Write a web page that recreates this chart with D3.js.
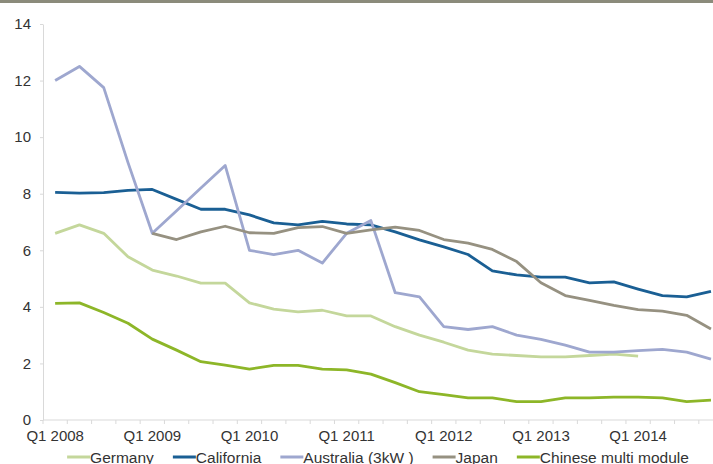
<!DOCTYPE html>
<html><head><meta charset="utf-8">
<script src="https://cdn.jsdelivr.net/npm/d3@7"></script>
<style>
html,body{margin:0;padding:0;background:#fff;}
svg{display:block;}
text{font-family:"Liberation Sans",Arial,sans-serif;}
</style></head>
<body>
<svg id="chart" width="713" height="464"></svg>
<script>
const quarters = [];
for (let y = 2008; y <= 2014; y++) for (let q = 1; q <= 4; q++) quarters.push("Q" + q + " " + y);

const tickLabels = ["Q1 2008","Q1 2009","Q1 2010","Q1 2011","Q1 2012","Q1 2013","Q1 2014"];
const yTicks = [0,2,4,6,8,10,12,14];

const germany = [6.6,6.9,6.6,5.77,5.3,5.09,4.84,4.84,4.14,3.92,3.82,3.88,3.68,3.68,3.3,3.0,2.75,2.47,2.33,2.28,2.23,2.23,2.28,2.33,2.26,null,null,null];
const california = [8.05,8.02,8.04,8.12,8.15,7.8,7.45,7.45,7.25,6.97,6.9,7.02,6.93,6.9,6.65,6.37,6.12,5.85,5.27,5.13,5.05,5.05,4.85,4.88,4.63,4.4,4.35,4.55];
const australia = [12.0,12.5,11.75,9.1,6.6,7.4,8.2,9.0,6.0,5.85,6.0,5.55,6.6,7.05,4.5,4.35,3.3,3.2,3.3,3.0,2.85,2.65,2.4,2.4,2.45,2.5,2.4,2.15];
const japan = [null,null,null,null,6.6,6.38,6.65,6.85,6.62,6.6,6.8,6.84,6.6,6.72,6.82,6.7,6.38,6.25,6.03,5.6,4.85,4.4,4.23,4.05,3.9,3.85,3.7,3.22];
const chinese = [4.12,4.14,3.8,3.42,2.86,2.47,2.06,1.94,1.8,1.93,1.93,1.8,1.77,1.62,1.32,1.0,0.9,0.78,0.78,0.65,0.65,0.78,0.78,0.81,0.81,0.78,0.65,0.7];

const seriesNames = ["Germany","California","Australia (3kW )","Japan","Chinese multi module"];
const seriesValues = [germany, california, australia, japan, chinese];
const seriesColors = ["#c4d79b","#1a5f94","#9ea7cf","#969181","#8db628"];

const svg = d3.select("#chart");

// top bar
svg.append("rect").attr("x",0).attr("y",0).attr("width",713).attr("height",3).attr("fill","#8b8b7b");

const x = d3.scaleBand().domain(quarters).range([43, 43 + 28*24.29]).padding(0);
const y = d3.scaleLinear().domain([0,14]).range([420,24]);
const cx = q => x(q) + x.bandwidth()/2;

// y axis
const yAxis = svg.append("g").attr("transform","translate(43,0)")
  .call(d3.axisLeft(y).tickValues(yTicks).tickSize(3).tickPadding(9).tickSizeOuter(0));
yAxis.select(".domain").attr("stroke","#d9d9d9");
yAxis.selectAll(".tick line").attr("stroke","#d9d9d9");
yAxis.selectAll(".tick text").attr("fill","#333").style("font-size","15px").style("font-family","'Liberation Sans',Arial,sans-serif");

// x axis line
svg.append("line").attr("x1",43).attr("x2",723).attr("y1",y(0)).attr("y2",y(0)).attr("stroke","#d9d9d9");
// boundary ticks
const bounds = quarters.map(q => x(q)).concat([x(quarters[quarters.length-1]) + x.bandwidth()]);
svg.append("g").selectAll("line").data(bounds).join("line")
  .attr("x1",d=>d).attr("x2",d=>d).attr("y1",y(0)).attr("y2",y(0)+4).attr("stroke","#d9d9d9");
// x labels
const xAxis = svg.append("g").attr("transform","translate(0," + y(0) + ")")
  .call(d3.axisBottom(x).tickValues(tickLabels).tickSize(0).tickPadding(10));
xAxis.select(".domain").remove();
xAxis.selectAll(".tick text").attr("fill","#333").style("font-size","15px").style("font-family","'Liberation Sans',Arial,sans-serif");

// lines
const line = d3.line().defined(d => d.v != null).x(d => cx(d.q)).y(d => y(d.v));
seriesValues.forEach((vals, i) => {
  svg.append("path")
    .datum(quarters.map((q, j) => ({q, v: vals[j]})))
    .attr("d", line)
    .attr("fill","none")
    .attr("stroke", seriesColors[i])
    .attr("stroke-width", 2.8)
    .attr("stroke-linejoin","round");
});

// legend
const legend = svg.append("g");
const items = legend.selectAll("g").data(seriesNames).join("g");
items.append("line").attr("x1",0).attr("x2",23).attr("y1",0).attr("y2",0)
  .attr("stroke",(d,i)=>seriesColors[i]).attr("stroke-width",3);
items.append("text").attr("x",23).attr("y",5.5).text(d=>d)
  .attr("fill","#333").style("font-size","15.5px");
const widths = [];
items.each(function(){ widths.push(this.querySelector("text").getComputedTextLength() + 23); });
const gap = 19;
const total = d3.sum(widths) + gap*(widths.length-1);
let cur = 378 - total/2;
items.each(function(d,i){
  d3.select(this).attr("transform","translate(" + cur + ",457)");
  cur += widths[i] + gap;
});
</script>
</body></html>
